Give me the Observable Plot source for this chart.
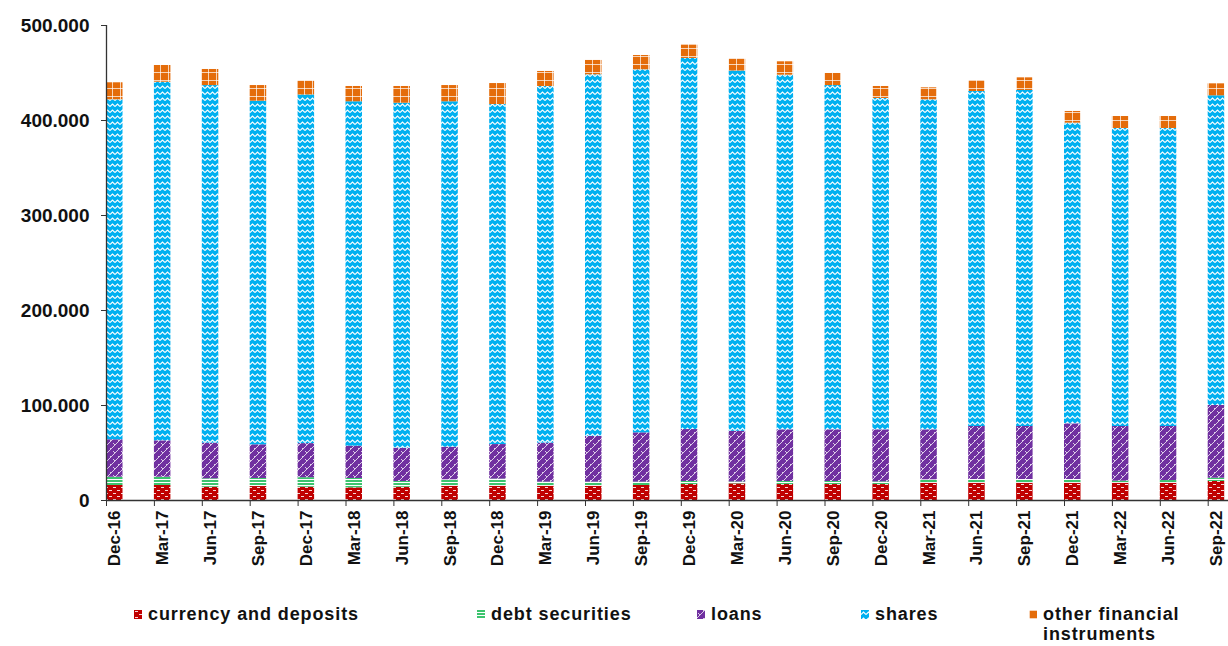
<!DOCTYPE html>
<html>
<head>
<meta charset="utf-8">
<script src="https://cdn.jsdelivr.net/npm/d3@7"></script>
<script src="https://cdn.jsdelivr.net/npm/@observablehq/plot@0.6"></script>
<style>
  body { margin: 0; background: #fff; font-family: "Liberation Sans", Arial, sans-serif; }
  #wrap { position: relative; width: 1228px; height: 646px; overflow: hidden; }
  #chart svg { font-family: "Liberation Sans", Arial, sans-serif; font-weight: bold; color: #111; }
  .leg { position: absolute; top: 604px; font-size: 18px; letter-spacing: 0.9px; font-weight: bold; color: #111; line-height: 20px; }
  .leg svg { position: absolute; left: -14px; top: 6px; }
</style>
</head>
<body>
<svg width="0" height="0" style="position:absolute">
  <defs>
    <pattern id="p-cur" width="8" height="6" patternUnits="userSpaceOnUse">
      <rect width="8" height="6" fill="#C00000"/>
      <rect x="1" y="1" width="3" height="1" fill="#fff" opacity="0.85"/>
      <rect x="5" y="4" width="3" height="1" fill="#fff" opacity="0.85"/>
    </pattern>
    <pattern id="p-debt" width="4" height="3" patternUnits="userSpaceOnUse">
      <rect width="4" height="3" fill="#ffffff"/>
      <rect width="4" height="2" fill="#3CC46E"/>
    </pattern>
    <pattern id="p-loan" width="8" height="8" patternUnits="userSpaceOnUse">
      <rect width="8" height="8" fill="#7030A0"/>
      <path d="M0,8 L8,0 M-1,1 L1,-1 M7,9 L9,7 M1,3 L3,5 M5,-1 L7,1" stroke="#fff" stroke-width="1" opacity="0.75" fill="none"/>
    </pattern>
    <pattern id="p-shares" width="5" height="6" patternUnits="userSpaceOnUse">
      <rect width="5" height="6" fill="#00B0F0"/>
      <path d="M0,4.5 L2.5,2 L5,4.5" stroke="#fff" stroke-width="1.1" fill="none"/>
    </pattern>
    <pattern id="p-other" width="8" height="8" patternUnits="userSpaceOnUse">
      <rect width="8" height="8" fill="#E46C0A"/>
      <path d="M0,0.5 H8 M0.5,0 V8" stroke="#fff" stroke-width="1" opacity="0.7" fill="none"/>
    </pattern>
  </defs>
</svg>
<div id="wrap">
  <div id="chart"></div>
  <div id="legend"></div>
</div>
<script>
const periods = ["Dec-16","Mar-17","Jun-17","Sep-17","Dec-17","Mar-18","Jun-18","Sep-18","Dec-18","Mar-19","Jun-19","Sep-19","Dec-19","Mar-20","Jun-20","Sep-20","Dec-20","Mar-21","Jun-21","Sep-21","Dec-21","Mar-22","Jun-22","Sep-22"];
const seriesNames = ["currency and deposits","debt securities","loans","shares","other financial instruments"];
const patternIds = ["p-cur","p-debt","p-loan","p-shares","p-other"];

const currency = [15800,15800,14000,14700,14000,13300,14000,15000,15000,15000,15000,15800,16800,17500,16800,16800,16800,18200,18200,18200,18200,18200,18200,20000];
const debt     = [8700,8700,8800,8500,10000,9900,6000,6800,7500,4300,4300,3500,3200,2000,3200,3200,2800,3600,3900,3900,3900,2200,2800,3500];
const loans    = [39400,38300,37600,35400,35900,34000,35000,34300,36400,41100,48100,51900,54700,53300,54400,54400,54800,52600,55800,55800,58600,57500,56900,76500];
const shares   = [357900,377500,376400,361700,367000,362500,363200,363600,357900,375400,380700,382200,390600,379300,373300,362400,348800,347400,352600,353700,316500,313700,313700,326000];
const other    = [17900,17600,16900,16500,14700,16100,17600,17100,22100,15800,15100,15000,14000,12300,14100,12700,12600,12600,11600,13300,12300,12600,12600,12600];
const yTicks = [0,100000,200000,300000,400000,500000];

const seriesValues = [currency, debt, loans, shares, other];
const data = [];
periods.forEach((p, i) => {
  seriesNames.forEach((s, j) => data.push({period: p, series: s, value: seriesValues[j][i]}));
});

const locale = d3.formatLocale({decimal: ",", thousands: ".", grouping: [3], currency: ["", ""]});
const fmt = locale.format(",d");

const step = 47.9, barW = 16.5, firstLeft = 106;
const pInner = 1 - barW / step, pOuter = pInner / 2;
const r0 = firstLeft - step * pOuter;
const r1 = r0 + step * periods.length;

const chart = Plot.plot({
  width: 1228,
  height: 588,
  marginTop: 25,
  marginBottom: 88,
  marginLeft: 106,
  marginRight: 0,
  x: {type: "band", domain: periods, range: [r0, r1], paddingInner: pInner, paddingOuter: pOuter, round: false, axis: null},
  y: {domain: [0, 500000], axis: null},
  color: {domain: seriesNames, range: patternIds.map(id => `url(#${id})`)},
  marks: [
    Plot.barY(data, {x: "period", y: "value", fill: "series"}),
    Plot.ruleY([0], {stroke: "#333", strokeWidth: 1.3}),
    Plot.ruleX([periods[0]], {x: d => d, y1: 0, y2: 500000, dx: -barW / 2, stroke: "#333", strokeWidth: 1.3}),
    Plot.axisY({ticks: yTicks, tickSize: 5, tickPadding: 12, tickFormat: fmt, fontSize: 19, fontWeight: "bold", stroke: "#333", label: null, style: {letterSpacing: "0.6px"}}),
    Plot.axisX({tickSize: 6, tickFormat: () => "", dx: -barW / 2, stroke: "#333", label: null}),
    Plot.axisX({tickSize: 0, tickRotate: -90, tickPadding: 10, fontSize: 17, fontWeight: "bold", label: null})
  ]
});
document.getElementById("chart").appendChild(chart);

// legend
const legendLefts = [148, 491, 711, 875, 1043];
const legend = document.getElementById("legend");
seriesNames.forEach((s, j) => {
  const item = document.createElement("div");
  item.className = "leg";
  item.style.left = legendLefts[j] + "px";
  if (j === 4) { item.innerHTML = "other financial<br>instruments"; item.style.width = "180px"; }
  else item.textContent = s;
  const sw = document.createElementNS("http://www.w3.org/2000/svg", "svg");
  sw.setAttribute("width", 8); sw.setAttribute("height", 9);
  const r = document.createElementNS("http://www.w3.org/2000/svg", "rect");
  r.setAttribute("width", 8); r.setAttribute("height", 9);
  r.setAttribute("fill", `url(#${patternIds[j]})`);
  sw.appendChild(r);
  item.appendChild(sw);
  legend.appendChild(item);
});
</script>
</body>
</html>
